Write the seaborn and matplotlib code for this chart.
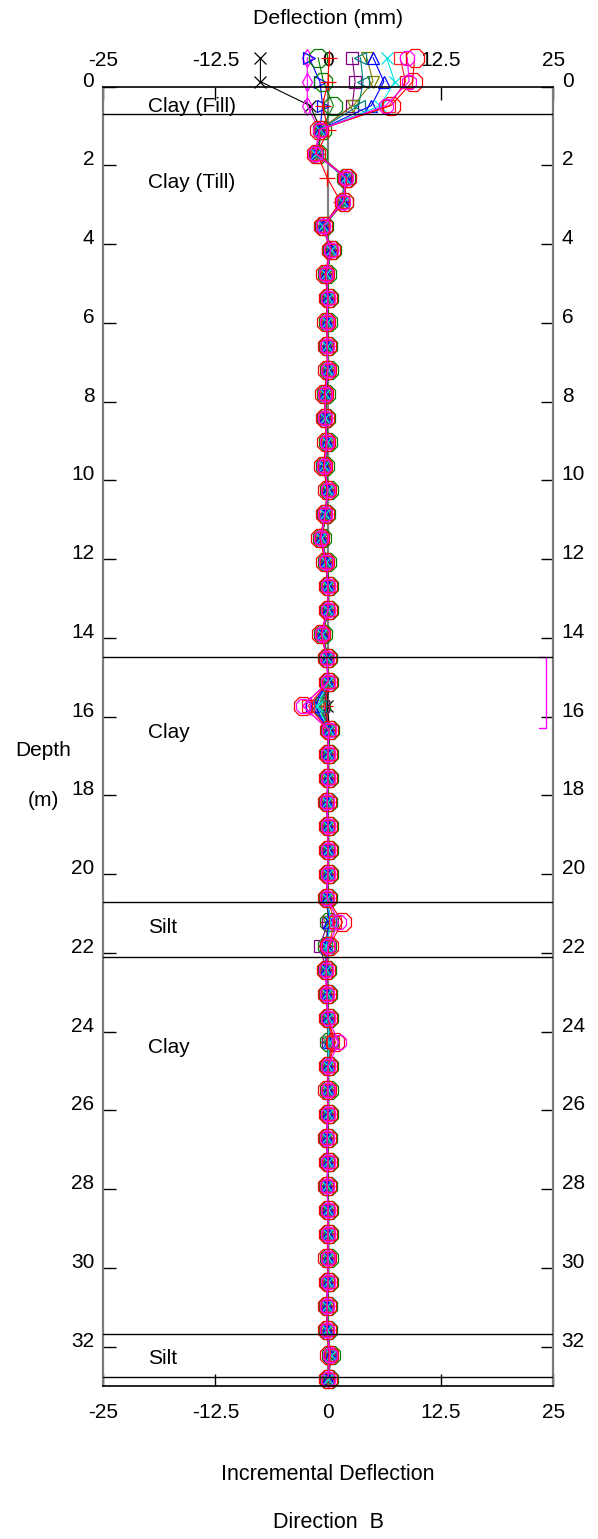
import matplotlib
matplotlib.use("Agg")
import matplotlib.pyplot as plt
import seaborn as sns
import pandas as pd

# ---------------- data ----------------
depths = [-0.74, -0.13, 0.48, 1.09, 1.70, 2.31, 2.92, 3.53, 4.14, 4.75, 5.36, 5.97, 6.58, 7.19,
          7.80, 8.41, 9.02, 9.63, 10.24, 10.85, 11.46, 12.07, 12.68, 13.29, 13.90, 14.51,
          15.12, 15.73, 16.34, 16.95, 17.56, 18.17, 18.78, 19.39, 20.00, 20.61, 21.22, 21.83,
          22.44, 23.05, 23.66, 24.27, 24.88, 25.49, 26.10, 26.71, 27.32, 27.93, 28.54, 29.15,
          29.76, 30.37, 30.98, 31.59, 32.20, 32.81]

s_black = ([-7.5, -7.5, -2.0] +
           [-0.8, -1.2, 1.8, 1.6, -0.4, 0.3, -0.1, 0.0, -0.1, 0.0, 0.1, -0.2, -0.3] +
           [0.0, -0.3, 0.0, -0.2, -0.7, -0.2, 0.1, 0.0, -0.6, 0.0, 0.1, -0.1, 0.2] +
           [0.0, 0.1, 0.0, 0.0, 0.1, 0.0, -0.1, 0.1, -0.1, -0.2, 0.0, 0.0, 0.1] +
           [0.0, 0.1, 0.0, -0.1, 0.0, 0.0, 0.0, 0.1, 0.0, 0.0, -0.1, 0.0, 0.2, 0.0])
s_magenta_d = ([-2.3, -2.3, -2.3] +
               [-1.0, -1.4, 2.0, 1.8, -0.6, 0.2, -0.3, -0.1, -0.2, -0.1, -0.1, -0.4, -0.3] +
               [-0.2, -0.5, -0.1, -0.3, -0.9, -0.3, 0.0, -0.1, -0.8, -0.1, -0.1, -2.0, 0.0] +
               [-0.1, 0.0, -0.2, -0.1, 0.0, -0.1, -0.2, 0.4, -0.3, -0.3, -0.2, -0.1, 0.5] +
               [-0.1, 0.0, -0.1, -0.2, -0.1, -0.1, 0.0, -0.1, 0.0, -0.1, -0.2, -0.1, 0.3, 0.0])
s_blue_r = ([-2.1, -0.9, -0.6] +
            [-0.9, -1.3, 1.9, 1.7, -0.5, 0.4, -0.2, 0.1, -0.1, -0.1, 0.0, -0.3, -0.2] +
            [-0.1, -0.4, 0.1, -0.3, -0.8, -0.1, 0.0, 0.1, -0.7, -0.1, 0.0, -1.8, 0.1] +
            [0.1, 0.0, -0.1, 0.0, 0.1, 0.0, -0.1, 0.0, -0.2, -0.1, -0.1, 0.1, 0.0] +
            [0.0, 0.0, 0.1, -0.1, 0.0, -0.1, 0.1, 0.0, 0.0, 0.0, -0.1, -0.1, 0.3, 0.1])
s_green = ([-1.1, -0.5, 0.6] +
           [-0.7, -1.1, 2.0, 1.8, -0.4, 0.4, -0.1, 0.1, 0.0, 0.0, 0.1, -0.2, -0.2] +
           [0.0, -0.3, 0.1, -0.2, -0.7, -0.1, 0.1, 0.1, -0.6, 0.0, 0.1, -0.8, 0.2] +
           [0.1, 0.1, 0.0, 0.1, 0.1, 0.1, 0.0, 0.1, -0.1, -0.1, 0.0, 0.1, 0.1] +
           [0.1, 0.1, 0.1, 0.0, 0.1, 0.0, 0.1, 0.1, 0.1, 0.1, 0.0, 0.0, 0.3, 0.1])
s_red_plus = ([0.1, 0.0, -0.6] +
              [0.0, -1.2, -0.1, 1.4, -0.5, 0.3, -0.2, 0.0, -0.1, -0.1, 0.0, -0.3, -0.3] +
              [-0.1, -0.4, 0.0, -0.3, -0.8, -0.2, 0.0, 0.0, -0.7, -0.1, 0.0, -0.3, 0.1] +
              [0.0, 0.0, -0.1, 0.0, 0.0, 0.0, -0.1, 0.0, -0.2, -0.2, -0.1, 0.0, 0.0] +
              [0.0, 0.0, 0.0, -0.1, 0.0, -0.1, 0.0, 0.0, 0.0, 0.0, -0.1, -0.1, 0.2, 0.0])
s_purple = ([2.7, 3.0, 2.7] +
            [-0.8, -1.3, 1.9, 1.7, -0.5, 0.3, -0.2, 0.0, -0.1, -0.1, 0.0, -0.3, -0.3] +
            [-0.1, -0.4, 0.0, -0.3, -0.8, -0.2, 0.0, 0.0, -0.7, -0.1, 0.0, -0.5, 0.1] +
            [0.0, 0.0, -0.1, 0.0, 0.0, 0.0, -0.1, 0.0, -0.9, -0.2, -0.1, 0.0, 0.0] +
            [0.0, 0.0, 0.0, -0.1, 0.0, -0.1, 0.0, 0.0, 0.0, 0.0, -0.1, -0.1, 0.2, 0.0])
s_olive = ([4.3, 5.0, 2.8] +
           [-0.9, -1.3, 1.9, 1.6, -0.4, 0.3, -0.2, 0.0, -0.1, 0.0, 0.0, -0.3, -0.2] +
           [-0.1, -0.3, 0.0, -0.2, -0.8, -0.2, 0.0, 0.0, -0.7, 0.0, 0.0, -1.0, 0.1] +
           [0.0, 0.0, -0.1, 0.0, 0.0, 0.0, -0.1, 0.0, -0.2, -0.2, -0.1, 0.0, 0.0] +
           [0.0, 0.0, 0.0, -0.1, 0.0, -0.1, 0.0, 0.0, 0.0, 0.0, -0.1, -0.1, 0.2, 0.0])
s_teal = ([3.6, 3.9, 3.4] +
          [-0.9, -1.2, 2.0, 1.7, -0.5, 0.3, -0.2, 0.0, -0.1, -0.1, 0.0, -0.3, -0.3] +
          [-0.1, -0.4, 0.0, -0.3, -0.8, -0.2, 0.0, 0.0, -0.7, -0.1, 0.0, -0.9, 0.1] +
          [0.0, 0.0, -0.1, 0.0, 0.0, 0.0, -0.1, 0.2, -0.2, -0.2, -0.1, 0.0, 0.0] +
          [0.0, 0.0, 0.0, -0.1, 0.0, -0.1, 0.0, 0.0, 0.0, 0.0, -0.1, -0.1, 0.2, 0.0])
s_blue_up = ([5.0, 6.2, 4.8] +
             [-0.9, -1.3, 1.9, 1.7, -0.5, 0.3, -0.2, 0.0, -0.1, -0.1, 0.0, -0.3, -0.3] +
             [-0.1, -0.4, 0.0, -0.3, -0.8, -0.2, 0.0, 0.0, -0.7, -0.1, 0.0, -1.5, 0.1] +
             [0.0, 0.0, -0.1, 0.0, 0.0, 0.0, -0.1, 0.1, -0.2, -0.2, -0.1, 0.0, 0.1] +
             [0.0, 0.0, 0.0, -0.1, 0.0, -0.1, 0.0, 0.0, 0.0, 0.0, -0.1, -0.1, 0.2, 0.0])
s_cyan = ([6.5, 7.4, 5.8] +
          [-0.9, -1.3, 1.9, 1.7, -0.5, 0.3, -0.2, 0.0, -0.1, -0.1, 0.0, -0.3, -0.3] +
          [-0.1, -0.4, 0.0, -0.3, -0.8, -0.2, 0.0, 0.0, -0.7, -0.1, 0.0, -1.2, 0.1] +
          [0.0, 0.0, -0.1, 0.0, 0.0, 0.0, -0.1, 0.3, -0.2, -0.2, -0.1, 0.0, 0.1] +
          [0.0, 0.0, 0.0, -0.1, 0.0, -0.1, 0.0, 0.0, 0.0, 0.0, -0.1, -0.1, 0.3, 0.0])
s_red_sq = ([8.0, 8.6, 6.8] +
            [-0.9, -1.3, 2.0, 1.7, -0.5, 0.3, -0.2, 0.0, -0.1, -0.1, 0.0, -0.3, -0.3] +
            [-0.1, -0.4, 0.0, -0.3, -0.8, -0.2, 0.0, 0.0, -0.7, -0.1, 0.0, -2.2, 0.1] +
            [0.0, 0.0, -0.1, 0.0, 0.0, 0.0, -0.1, 0.8, 0.0, -0.2, -0.1, 0.0, 0.6] +
            [0.0, 0.0, 0.0, -0.1, 0.0, -0.1, 0.0, 0.0, 0.0, 0.0, -0.1, -0.1, 0.3, 0.0])
s_red_oct = ([9.6, 9.4, 7.0] +
             [-1.0, -1.3, 2.1, 1.8, -0.5, 0.3, -0.3, 0.0, -0.2, -0.1, -0.1, -0.4, -0.3] +
             [-0.2, -0.5, -0.1, -0.3, -0.9, -0.3, 0.0, 0.0, -0.8, -0.1, 0.0, -2.8, 0.1] +
             [0.0, 0.0, -0.1, 0.0, 0.0, 0.0, -0.1, 1.6, 0.1, -0.2, -0.1, 0.0, 0.8] +
             [0.0, -0.1, 0.0, -0.1, 0.0, -0.1, 0.0, 0.0, -0.1, 0.0, -0.1, -0.1, 0.1, 0.0])
s_magenta_oct = ([8.8, 9.0, 6.4] +
                 [-0.9, -1.4, 2.0, 1.7, -0.5, 0.3, -0.2, 0.0, -0.1, -0.1, 0.0, -0.3, -0.3] +
                 [-0.1, -0.4, 0.0, -0.3, -0.8, -0.2, 0.0, 0.0, -0.7, -0.1, 0.0, -2.8, 0.1] +
                 [0.0, 0.0, -0.1, 0.0, 0.0, 0.0, -0.1, 1.2, 0.0, -0.2, -0.1, 0.0, 1.2] +
                 [0.0, 0.0, 0.0, -0.1, 0.0, -0.1, 0.0, 0.0, 0.0, 0.0, -0.1, -0.1, 0.2, 0.0])

series_values = [s_black, s_magenta_d, s_blue_r, s_green, s_red_plus, s_purple, s_olive,
                 s_teal, s_blue_up, s_cyan, s_red_sq, s_red_oct, s_magenta_oct]
series_colors = ["#000000", "#ff00ff", "#0000ff", "#008000", "#ff0000", "#800080", "#808000",
                 "#008080", "#0000ff", "#00e5e5", "#ff2020", "#ff0000", "#ff00ff"]
series_markers = ["x", "d", ">", "8", "+", "s", "v", "<", "^", "x", "s", "8", "8"]
series_msize = [9, 9, 9, 13.5, 11, 8, 9, 9, 9, 9, 8, 13.5, 11.5]

layer_bounds = [0.69, 14.49, 20.70, 22.10, 31.68, 32.78]
layer_names = ["Clay (Fill)", "Clay (Till)", "Clay", "Silt", "Clay", "Silt"]
layer_label_depth = [0.51, 2.44, 16.4, 21.35, 24.4, 32.3]

bracket_x = [23.4, 24.2, 24.2, 23.4]
bracket_y = [14.49, 14.49, 16.28, 16.28]

x_ticks = [-25, -12.5, 0, 12.5, 25]
x_tick_labels = ["-25", "-12.5", "0", "12.5", "25"]
y_ticks = [0, 2, 4, 6, 8, 10, 12, 14, 16, 18, 20, 22, 24, 26, 28, 30, 32]

# ---------------- figure ----------------
sns.set_style("white")
plt.rcParams["font.family"] = ["Liberation Sans", "DejaVu Sans"]
plt.rcParams["text.color"] = "black"
plt.rcParams["xtick.color"] = "black"
plt.rcParams["ytick.color"] = "black"
plt.rcParams["xtick.labelcolor"] = "black"
plt.rcParams["ytick.labelcolor"] = "black"

W, H = 598, 1539
fig = plt.figure(figsize=(W / 100, H / 100), dpi=100)
ax_l, ax_r, ax_t, ax_b = 102.7, 553.3, 86.7, 1386.0
ax = fig.add_axes([ax_l / W, 1 - ax_b / H, (ax_r - ax_l) / W, (ax_b - ax_t) / H])

ax.axvline(0, color="#808080", lw=1.6, zorder=1)

for vals, c, m, ms in zip(series_values, series_colors, series_markers, series_msize):
    df = pd.DataFrame({"defl": vals, "depth": depths})
    sns.lineplot(data=df, x="defl", y="depth", ax=ax, sort=False, estimator=None,
                 orient="y", color=c, marker=m, ms=ms, mfc="none", mec=c, mew=0.9,
                 lw=0.8, clip_on=False, legend=False)

for d in layer_bounds:
    ax.axhline(d, color="black", lw=1.0, zorder=3)
for name, d in zip(layer_names, layer_label_depth):
    ax.text(-20, d, name, ha="left", va="center", fontsize=15, color="black")

ax.plot(bracket_x, bracket_y, color="#ff00ff", lw=1.0, clip_on=False)

ax.set_xlim(-25, 25)
ax.set_ylim(33, 0)
ax.set_xticks(x_ticks)
ax.set_xticklabels(x_tick_labels)
ax.set_yticks(y_ticks)
ax.set_yticklabels([str(t) for t in y_ticks])
ax.set_xlabel("")
ax.set_ylabel("")
ax.tick_params(axis="x", top=True, bottom=True, labeltop=True, labelbottom=True,
               direction="in", length=9, width=1, pad=12, labelsize=15, color="black")
ax.tick_params(axis="y", left=True, right=True, labelleft=True, labelright=True,
               direction="in", length=9, width=1, pad=6, labelsize=15, color="black")
for t in ax.xaxis.get_major_ticks():
    t.label2.set_va("bottom")
# y tick labels sit with their baseline on the tick in the reference
for t in ax.yaxis.get_major_ticks():
    t.label1.set_va("baseline")
    t.label2.set_va("baseline")

for side in ["left", "right"]:
    ax.spines[side].set_color("#7a7a7a")
    ax.spines[side].set_linewidth(1.6)
for side in ["top", "bottom"]:
    ax.spines[side].set_color("black")
    ax.spines[side].set_linewidth(1.2)

fig.text(328 / W, 1 - 19 / H, "Deflection (mm)", ha="center", va="center", fontsize=15.3)
fig.text(43 / W, 1 - 750 / H, "Depth", ha="center", va="center", fontsize=15)
fig.text(43 / W, 1 - 800 / H, "(m)", ha="center", va="center", fontsize=15)
fig.text(328 / W, 1 - 1475 / H, "Incremental Deflection", ha="center", va="center", fontsize=15.5)
fig.text(328 / W, 1 - 1523 / H, "Direction  B", ha="center", va="center", fontsize=15.5)

fig.savefig("out.png", dpi=100, facecolor="white")
